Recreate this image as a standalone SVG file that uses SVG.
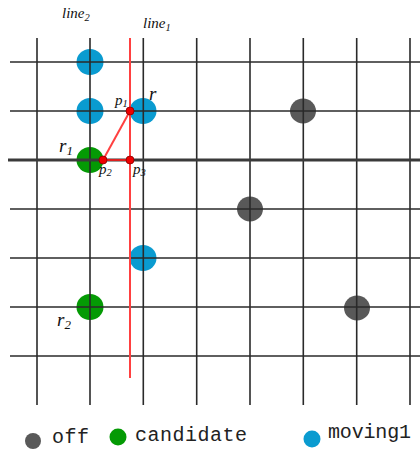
<svg xmlns="http://www.w3.org/2000/svg" width="420" height="453" viewBox="0 0 420 453">
<style>
.g{stroke:#2a2a2a;stroke-width:1.6;fill:none}
.thick{stroke:#3a3a3a;stroke-width:3;fill:none}
.red{stroke:#ff4040;stroke-width:2;fill:none}
.blue{fill:#0a9bd0}
.green{fill:#049a04}
.off{fill:#595959}
.pt{fill:#ee0000;stroke:#880000;stroke-width:0.8}
.m{font-family:"Liberation Serif",serif;font-style:italic;fill:#111}
.leg{font-family:"Liberation Mono",monospace;font-size:20px;fill:#222}
</style>
<g id="robots">
<ellipse class="blue" cx="90" cy="62" rx="13.5" ry="13"/>
<ellipse class="blue" cx="90" cy="111" rx="13.5" ry="13"/>
<ellipse class="blue" cx="143" cy="111" rx="13.5" ry="13"/>
<ellipse class="blue" cx="143" cy="258" rx="13.5" ry="13"/>
<ellipse class="green" cx="90" cy="160" rx="13.5" ry="13"/>
<ellipse class="green" cx="90" cy="307" rx="13.5" ry="13"/>
<ellipse class="off" cx="303" cy="111" rx="13" ry="12.5"/>
<ellipse class="off" cx="250" cy="209" rx="13" ry="12.5"/>
<ellipse class="off" cx="357" cy="308" rx="13" ry="12.5"/>
</g>
<g id="grid">
<line class="g" x1="37" y1="38" x2="37" y2="405"/>
<line class="g" x1="90" y1="38" x2="90" y2="405"/>
<line class="g" x1="143.3" y1="38" x2="143.3" y2="405"/>
<line class="g" x1="196.7" y1="38" x2="196.7" y2="405"/>
<line class="g" x1="250" y1="38" x2="250" y2="405"/>
<line class="g" x1="303.3" y1="38" x2="303.3" y2="405"/>
<line class="g" x1="356.7" y1="38" x2="356.7" y2="405"/>
<line class="g" x1="410" y1="38" x2="410" y2="405"/>
<line class="g" x1="10" y1="62" x2="420" y2="62"/>
<line class="g" x1="10" y1="111" x2="420" y2="111"/>
<line class="thick" x1="8" y1="160" x2="420" y2="160"/>
<line class="g" x1="10" y1="209" x2="420" y2="209"/>
<line class="g" x1="10" y1="258" x2="420" y2="258"/>
<line class="g" x1="10" y1="307" x2="420" y2="307"/>
<line class="g" x1="10" y1="356" x2="420" y2="356"/>
</g>
<g id="connectors">
<line class="red" x1="130" y1="38" x2="130" y2="378"/>
<line class="red" x1="130" y1="111" x2="103" y2="160"/>
<line class="red" x1="103" y1="160" x2="130" y2="160" style="stroke:#dd2020"/>
</g>
<g id="points">
<circle class="pt" cx="130" cy="111" r="4"/>
<circle class="pt" cx="103" cy="160" r="4"/>
<circle class="pt" cx="130" cy="160" r="4"/>
</g>
<g id="labels">
<text class="m" x="62" y="18" font-size="15">line<tspan font-size="10.5" dy="3">2</tspan></text>
<text class="m" x="143" y="28" font-size="15">line<tspan font-size="10.5" dy="3">1</tspan></text>
<text class="m" x="115" y="105" font-size="15">p<tspan font-size="10.5" dy="2">1</tspan></text>
<text class="m" x="149" y="100" font-size="19">r</text>
<text class="m" x="59" y="152" font-size="19">r<tspan font-size="13" dy="3">1</tspan></text>
<text class="m" x="99" y="174" font-size="15">p<tspan font-size="10.5" dy="2">2</tspan></text>
<text class="m" x="133" y="174" font-size="15">p<tspan font-size="10.5" dy="2">3</tspan></text>
<text class="m" x="57" y="326" font-size="19">r<tspan font-size="13" dy="3">2</tspan></text>
</g>
<g id="legend">
<circle class="off" cx="33" cy="441" r="8"/>
<text class="leg" x="52" y="443" textLength="37">off</text>
<circle class="green" cx="118" cy="437" r="8.5"/>
<text class="leg" x="135" y="441" textLength="112">candidate</text>
<circle class="blue" cx="312" cy="439" r="8.5"/>
<text class="leg" x="328" y="438" textLength="83">moving1</text>
</g>
</svg>
